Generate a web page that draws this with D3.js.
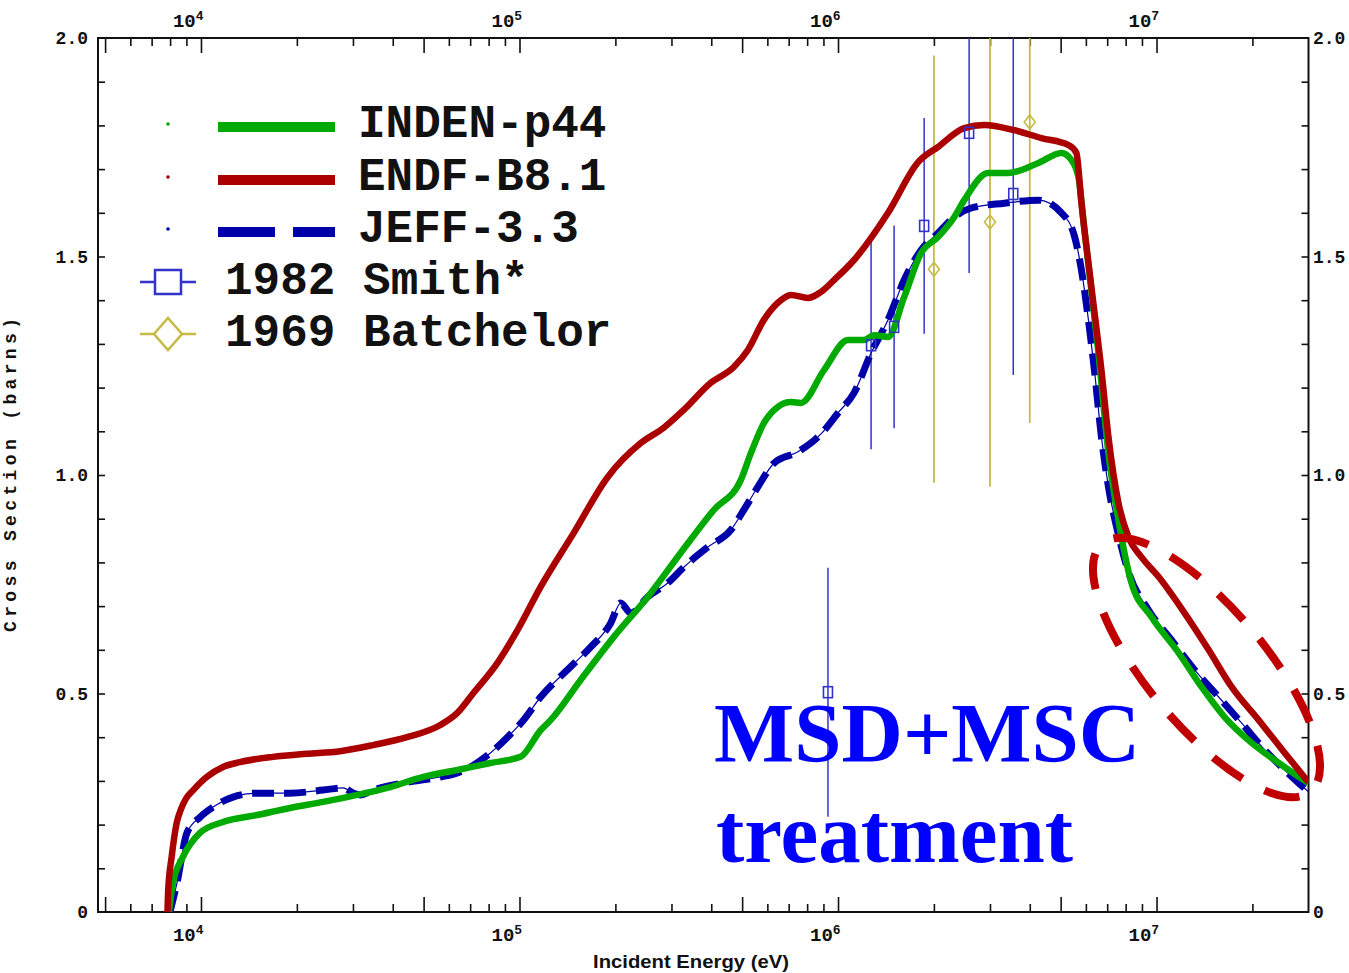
<!DOCTYPE html>
<html>
<head>
<meta charset="utf-8">
<script src="https://cdn.jsdelivr.net/npm/d3@7"></script>
<style>
  html, body { margin: 0; padding: 0; background: #fff; }
  svg { display: block; }
</style>
</head>
<body>
<svg id="chart" width="1349" height="973"></svg>
<script>
// ---- Evaluated cross sections: [incident energy (eV), cross section (barns)] ----
const indenP44 = [
  [7930,0],[8165,0.066],[8778,0.126],[9928,0.181],[11730,0.206],[15000,0.222],[19050,0.238],
  [24190,0.252],[30950,0.268],[39300,0.286],[49910,0.309],[63830,0.325],[81060,0.341],
  [100700,0.355],[116500,0.416],[125200,0.439],[155600,0.531],[197500,0.629],[252700,0.721],
  [320900,0.822],[407500,0.920],[495500,0.989],[532600,1.050],[585300,1.119],[647800,1.156],
  [711600,1.167],[764900,1.165],[903600,1.240],[1.075e6,1.309],[1.207e6,1.309],[1.298e6,1.320],
  [1.436e6,1.316],[1.613e6,1.407],[1.824e6,1.508],[2.063e6,1.545],[2.316e6,1.590],[2.49e6,1.629],
  [2.963e6,1.691],[3.424e6,1.691],[4.256e6,1.714],[5.027e6,1.737],[5.404e6,1.721],[5.684e6,1.682],
  [5.938e6,1.561],[6.571e6,1.279],[7.064e6,1.050],[7.593e6,0.897],[8.346e6,0.753],[9.645e6,0.675],
  [1.173e7,0.593],[1.385e7,0.515],[1.636e7,0.446],[1.989e7,0.387],[2.419e7,0.341],[3.0e7,0.295]
];

const endfB81 = [
  [7850,0],[7890,0.050],[8090,0.126],[8390,0.204],[8650,0.235],[8950,0.258],[9460,0.279],[10420,0.309],
  [11730,0.332],[13260,0.343],[16840,0.355],[21500,0.362],[27360,0.368],[34740,0.382],
  [44360,0.400],[56440,0.428],[63700,0.455],[71690,0.501],[85290,0.570],[98560,0.645],
  [116500,0.744],[147900,0.867],[189100,0.995],[240300,1.073],[283700,1.108],[327900,1.149],
  [398700,1.211],[471000,1.247],[521200,1.286],[585300,1.355],[662100,1.400],[711600,1.412],
  [804900,1.405],[884300,1.419],[971400,1.446],[1.123e6,1.492],[1.436e6,1.600],[1.785e6,1.716],
  [2.063e6,1.751],[2.49e6,1.794],[2.878e6,1.801],[3.577e6,1.789],[4.349e6,1.771],[5.289e6,1.755],
  [5.604e6,1.737],[5.811e6,1.622],[6.245e6,1.430],[6.714e6,1.240],[7.064e6,1.087],[7.593e6,0.936],
  [8.166e6,0.858],[8.97e6,0.812],[1.015e7,0.767],[1.225e7,0.684],[1.457e7,0.600],[1.721e7,0.515],
  [2.093e7,0.439],[2.527e7,0.364],[3.0e7,0.297]
];

const jeff33 = [
  [7990,0],[8404,0.066],[9036,0.181],[9928,0.217],[10910,0.240],[12600,0.263],[15000,0.272],
  [19050,0.272],[24190,0.279],[27960,0.284],[30060,0.272],[31620,0.268],[34740,0.279],
  [44440,0.297],[56440,0.309],[63830,0.318],[71690,0.336],[81060,0.364],[91680,0.400],
  [102900,0.439],[116500,0.492],[144700,0.561],[167200,0.606],[193300,0.661],[207800,0.707],
  [223500,0.684],[252700,0.721],[292100,0.753],[327900,0.789],[390100,0.835],[460600,0.874],
  [506300,0.920],[560200,0.973],[629300,1.027],[748500,1.053],[884300,1.094],[1.0e6,1.142],
  [1.123e6,1.188],[1.27e6,1.279],[1.436e6,1.355],[1.613e6,1.446],[1.824e6,1.515],[2.063e6,1.554],
  [2.316e6,1.590],[2.619e6,1.611],[3.327e6,1.622],[4.256e6,1.629],[5.027e6,1.600],[5.523e6,1.547],
  [5.811e6,1.469],[6.112e6,1.355],[6.383e6,1.240],[6.714e6,1.087],[7.064e6,0.973],[7.593e6,0.863],
  [8.166e6,0.778],[9.436e6,0.691],[1.115e7,0.622],[1.317e7,0.554],[1.567e7,0.492],[1.851e7,0.432],
  [2.186e7,0.371],[2.527e7,0.325],[3.0e7,0.275]
];

// ---- Measurements: energy (eV), cross section (b), uncertainty (b) ----
const smithE   = [9.3e5, 1.27e6, 1.5e6, 1.864e6, 2.58e6, 3.55e6];
const smithXS  = [0.503, 1.297, 1.339, 1.570, 1.783, 1.643];
const smithErr = [0.285, 0.238, 0.232, 0.247, 0.321, 0.414];

const batchE   = [2.0e6, 3.0e6, 4.0e6];
const batchXS  = [1.471, 1.579, 1.808];
const batchErr = [0.489, 0.606, 0.689];

// ---- Axis definitions ----
const energyDomain = [4750, 3e7];
const xsDomain = [0, 2];
const xLabelExponents = [4, 5, 6, 7];
const yTickValues = [0, 0.5, 1.0, 1.5, 2.0];
const yTickLabels = ["0", "0.5", "1.0", "1.5", "2.0"];

const legendNames = ["INDEN-p44", "ENDF-B8.1", "JEFF-3.3", "1982 Smith*", "1969 Batchelor"];

// ---- Styling ----
const colInden = "#00aa00", colEndf = "#aa0000", colJeff = "#0000aa";
const colSmith = "#3333cc", colBatch = "#c6bb44";
const monoFont = "'Liberation Mono', 'Courier New', monospace";

const svg = d3.select("#chart");
svg.append("rect").attr("width", 1349).attr("height", 973).attr("fill", "#fff");

const plot = { left: 98, right: 1308.5, top: 38, bottom: 912 };
const x = d3.scaleLog().domain(energyDomain).range([plot.left, plot.right]);
const y = d3.scaleLinear().domain(xsDomain).range([plot.bottom, plot.top]);

// clip region for data marks
svg.append("defs").append("clipPath").attr("id", "plotClip")
  .append("rect").attr("x", plot.left).attr("y", plot.top)
  .attr("width", plot.right - plot.left).attr("height", plot.bottom - plot.top);

// ---- tick values ----
const allXTicks = [];
for (let d = 3; d <= 7; d++) {
  for (let m = 1; m <= 9; m++) {
    const v = m * Math.pow(10, d);
    if (v >= energyDomain[0] && v < energyDomain[1]) allXTicks.push(v);
  }
}
const mant = v => Math.round(v / Math.pow(10, Math.floor(Math.log10(v) + 1e-9)));
const xLong = allXTicks.filter(v => mant(v) === 1 || mant(v) === 5);
const xShort = allXTicks.filter(v => !(mant(v) === 1 || mant(v) === 5));
const yMinor = d3.range(1, 20).map(i => i / 10);

function styleAxis(g) {
  g.select(".domain").remove();
  g.selectAll(".tick line").attr("stroke", "#111").attr("stroke-width", 1.6);
  g.selectAll(".tick text").remove();
}

const axes = svg.append("g");
axes.append("g").attr("transform", `translate(0,${plot.bottom})`)
  .call(d3.axisBottom(x).tickValues(xLong).tickSize(-15).tickFormat("")).call(styleAxis);
axes.append("g").attr("transform", `translate(0,${plot.bottom})`)
  .call(d3.axisBottom(x).tickValues(xShort).tickSize(-8).tickFormat("")).call(styleAxis);
axes.append("g").attr("transform", `translate(0,${plot.top})`)
  .call(d3.axisTop(x).tickValues(xLong).tickSize(-15).tickFormat("")).call(styleAxis);
axes.append("g").attr("transform", `translate(0,${plot.top})`)
  .call(d3.axisTop(x).tickValues(xShort).tickSize(-8).tickFormat("")).call(styleAxis);
axes.append("g").attr("transform", `translate(${plot.left},0)`)
  .call(d3.axisLeft(y).tickValues(yMinor).tickSize(-7).tickFormat("")).call(styleAxis);
axes.append("g").attr("transform", `translate(${plot.right},0)`)
  .call(d3.axisRight(y).tickValues(yMinor).tickSize(-7).tickFormat("")).call(styleAxis);

// frame
svg.append("rect")
  .attr("x", plot.left).attr("y", plot.top)
  .attr("width", plot.right - plot.left).attr("height", plot.bottom - plot.top)
  .attr("fill", "none").attr("stroke", "#111").attr("stroke-width", 2);

// ---- decade labels (top and bottom) ----
function decadeLabel(yPos) {
  xLabelExponents.forEach(e => {
    const t = svg.append("text")
      .attr("x", x(Math.pow(10, e)) - 28).attr("y", yPos)
      .attr("font-family", monoFont).attr("font-weight", "bold")
      .attr("font-size", 19).attr("fill", "#111");
    t.append("tspan").text("10");
    t.append("tspan").attr("font-size", 13).attr("dy", -7).text(e);
  });
}
decadeLabel(27);
decadeLabel(941);

// ---- y labels (both sides) ----
yTickValues.forEach((v, i) => {
  svg.append("text").attr("x", 88).attr("y", y(v)).attr("dy", "0.35em")
    .attr("text-anchor", "end").attr("font-family", monoFont).attr("font-weight", "bold")
    .attr("font-size", 18).attr("fill", "#111").text(yTickLabels[i]);
  svg.append("text").attr("x", 1313).attr("y", y(v)).attr("dy", "0.35em")
    .attr("text-anchor", "start").attr("font-family", monoFont).attr("font-weight", "bold")
    .attr("font-size", 18).attr("fill", "#111").text(yTickLabels[i]);
});

// axis titles
svg.append("text")
  .attr("x", 593).attr("y", 968)
  .attr("font-family", "'Liberation Sans Narrow', 'Liberation Sans', sans-serif")
  .attr("font-weight", "bold").attr("font-size", 18).attr("fill", "#111")
  .attr("textLength", 196).attr("lengthAdjust", "spacingAndGlyphs")
  .text("Incident Energy (eV)");

svg.append("text")
  .attr("transform", "translate(16,475) rotate(-90)")
  .attr("text-anchor", "middle")
  .attr("font-family", monoFont).attr("font-weight", "bold")
  .attr("font-size", 18).attr("fill", "#111")
  .attr("textLength", 314).attr("lengthAdjust", "spacing")
  .text("Cross Section (barns)");

// ---- data layer ----
const data = svg.append("g").attr("clip-path", "url(#plotClip)");

// error bars
smithE.forEach((e, i) => {
  data.append("line").attr("x1", x(e)).attr("x2", x(e))
    .attr("y1", y(smithXS[i] - smithErr[i])).attr("y2", y(smithXS[i] + smithErr[i]))
    .attr("stroke", colSmith).attr("stroke-width", 1.5);
});
batchE.forEach((e, i) => {
  data.append("line").attr("x1", x(e)).attr("x2", x(e))
    .attr("y1", y(batchXS[i] - batchErr[i])).attr("y2", y(batchXS[i] + batchErr[i]))
    .attr("stroke", colBatch).attr("stroke-width", 1.8);
});

const line = d3.line().x(d => x(d[0])).y(d => y(d[1])).curve(d3.curveMonotoneX);

// JEFF-3.3: thin trace under thick dashes
data.append("path").attr("d", line(jeff33)).attr("fill", "none")
  .attr("stroke", colJeff).attr("stroke-width", 1.2);
data.append("path").attr("d", line(jeff33)).attr("fill", "none")
  .attr("stroke", colJeff).attr("stroke-width", 7).attr("stroke-dasharray", "22 10");
data.append("path").attr("d", line(indenP44)).attr("fill", "none")
  .attr("stroke", colInden).attr("stroke-width", 6.5).attr("stroke-linejoin", "round");
data.append("path").attr("d", line(endfB81)).attr("fill", "none")
  .attr("stroke", colEndf).attr("stroke-width", 6.5).attr("stroke-linejoin", "round");

// measurement markers
smithE.forEach((e, i) => {
  data.append("rect").attr("x", x(e) - 4.5).attr("y", y(smithXS[i]) - 5.5)
    .attr("width", 9).attr("height", 11)
    .attr("fill", "none").attr("stroke", colSmith).attr("stroke-width", 1.6);
});
batchE.forEach((e, i) => {
  const cx = x(e), cy = y(batchXS[i]);
  data.append("path")
    .attr("d", `M${cx},${cy - 7}L${cx + 5.5},${cy}L${cx},${cy + 7}L${cx - 5.5},${cy}Z`)
    .attr("fill", "none").attr("stroke", colBatch).attr("stroke-width", 1.6);
});

// ---- legend ----
const legend = svg.append("g");
const legRows = [137, 190, 242, 294, 346];
const legText = (i, xPos) => legend.append("text").attr("x", xPos).attr("y", legRows[i])
  .attr("font-family", monoFont).attr("font-weight", "bold").attr("font-size", 46)
  .attr("fill", "#111").text(legendNames[i]);

[[colInden, null], [colEndf, null], [colJeff, "57 18"]].forEach(([c, dash], i) => {
  const ly = legRows[i] - 10;
  legend.append("circle").attr("cx", 168).attr("cy", ly - 3).attr("r", 1.8).attr("fill", c);
  const l = legend.append("line").attr("x1", 218).attr("x2", 335).attr("y1", ly).attr("y2", ly)
    .attr("stroke", c).attr("stroke-width", 10);
  if (dash) l.attr("stroke-dasharray", dash);
  legText(i, 358);
});

// Smith legend entry
{
  const ly = 282;
  legend.append("line").attr("x1", 140).attr("x2", 196).attr("y1", ly).attr("y2", ly)
    .attr("stroke", colSmith).attr("stroke-width", 2.5);
  legend.append("rect").attr("x", 155).attr("y", ly - 12).attr("width", 26).attr("height", 24)
    .attr("fill", "#fff").attr("stroke", colSmith).attr("stroke-width", 2.5);
  legText(3, 225);
}
// Batchelor legend entry
{
  const ly = 334;
  legend.append("line").attr("x1", 140).attr("x2", 196).attr("y1", ly).attr("y2", ly)
    .attr("stroke", colBatch).attr("stroke-width", 2.5);
  legend.append("path")
    .attr("d", `M168,${ly - 16}L182,${ly}L168,${ly + 16}L154,${ly}Z`)
    .attr("fill", "#fff").attr("stroke", colBatch).attr("stroke-width", 2.5);
  legText(4, 225);
}

// ---- annotation ----
const note = svg.append("g").attr("font-family", "'Liberation Serif', 'Times New Roman', serif")
  .attr("font-weight", "bold").attr("font-size", 85).attr("fill", "#0000ff");
note.append("text").attr("x", 714).attr("y", 762).text("MSD+MSC");
note.append("text").attr("x", 716).attr("y", 862).text("treatment");

// highlighted high-energy region
svg.append("ellipse")
  .attr("cx", 1206.5).attr("cy", 667.5).attr("rx", 162).attr("ry", 59)
  .attr("transform", "rotate(50 1206.5 667.5)")
  .attr("fill", "none").attr("stroke", "#c00000").attr("stroke-width", 8)
  .attr("stroke-dasharray", "36 25").attr("stroke-dashoffset", 48.5);
</script>
</body>
</html>
